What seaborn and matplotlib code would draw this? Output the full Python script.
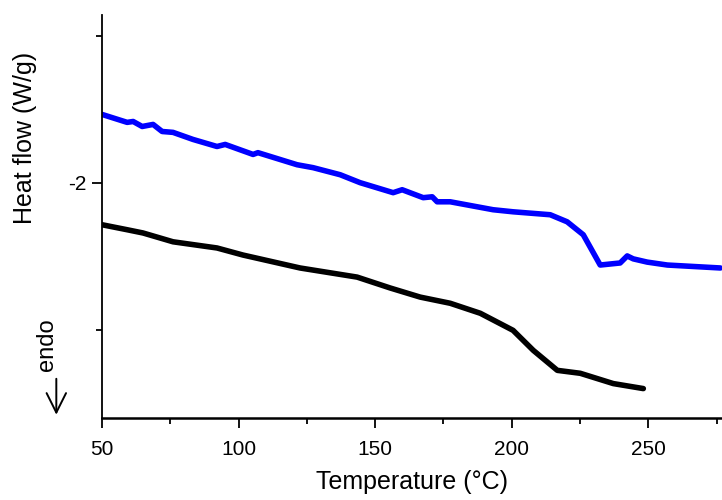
import matplotlib
matplotlib.use("Agg")
import matplotlib.pyplot as plt
import seaborn as sns
import pandas as pd
from matplotlib.ticker import MultipleLocator, FixedFormatter, FixedLocator

# blue curve (upper)
blue_temp = [50, 59.2, 61.4, 64.7, 68.7, 72.0, 76.0, 83.3, 92.1, 95.1, 105.3, 107.1,
             121.4, 127.3, 137.2, 144.5, 156.6, 159.9, 167.6, 170.9, 172.7, 177.5,
             193.2, 200.5, 214.1, 220.3, 226.2, 232.4, 239.7, 242.3, 244.5, 249.6,
             257.0, 276.4]
blue_flow = [-1.768, -1.795, -1.792, -1.809, -1.802, -1.826, -1.829, -1.853, -1.877,
             -1.870, -1.904, -1.898, -1.939, -1.949, -1.973, -2.000, -2.034, -2.024,
             -2.051, -2.048, -2.065, -2.065, -2.092, -2.099, -2.109, -2.133, -2.177,
             -2.280, -2.273, -2.249, -2.259, -2.270, -2.280, -2.290]

# black curve (lower)
black_temp = [50, 59.2, 65.0, 76.0, 92.1, 101.6, 122.5, 143.4, 155.5, 166.5, 177.5,
              188.5, 200.5, 207.9, 216.7, 225.1, 237.2, 248.2]
black_flow = [-2.143, -2.160, -2.171, -2.201, -2.222, -2.246, -2.290, -2.321, -2.358,
              -2.389, -2.410, -2.444, -2.502, -2.570, -2.638, -2.648, -2.683, -2.700]

sns.set_style("ticks")
plt.rcParams['font.family'] = ['Liberation Sans', 'DejaVu Sans']
plt.rcParams['text.color'] = 'black'
plt.rcParams['axes.labelcolor'] = 'black'
plt.rcParams['xtick.color'] = 'black'
plt.rcParams['ytick.color'] = 'black'
plt.rcParams['axes.edgecolor'] = 'black'

fig = plt.figure(figsize=(7.22, 5), dpi=100)
ax = fig.add_axes([0.1413, 0.164, 0.8587, 0.806])

blue_df = pd.DataFrame({"T": blue_temp, "HF": blue_flow})
black_df = pd.DataFrame({"T": black_temp, "HF": black_flow})
sns.lineplot(data=blue_df, x="T", y="HF", color="#0000ff", linewidth=4, ax=ax,
             sort=False, solid_capstyle="round", solid_joinstyle="round")
sns.lineplot(data=black_df, x="T", y="HF", color="black", linewidth=4, ax=ax,
             sort=False, solid_capstyle="round", solid_joinstyle="round")

ax.set_xlim(50, 277)
ax.set_ylim(-2.80, -1.43)

ax.xaxis.set_major_locator(MultipleLocator(50))
ax.xaxis.set_minor_locator(MultipleLocator(25))
ax.yaxis.set_major_locator(FixedLocator([-2]))
ax.yaxis.set_minor_locator(FixedLocator([-2.5, -1.5]))
ax.yaxis.set_major_formatter(FixedFormatter(["-2"]))

for s in ["top", "right"]:
    ax.spines[s].set_visible(False)
ax.spines["bottom"].set_linewidth(1.8)
ax.spines["left"].set_linewidth(1.3)

ax.tick_params(axis="both", which="major", labelsize=15, length=7, width=1.3, direction="out")
ax.tick_params(axis="both", which="minor", length=4, width=1.3, direction="out")
ax.tick_params(axis="x", pad=9)
ax.tick_params(axis="y", pad=4)

ax.set_xlabel("Temperature (°C)", fontsize=18)
ax.xaxis.set_label_coords(0.5, -0.128)
ax.set_ylabel("Heat flow (W/g)", fontsize=18)
ax.yaxis.set_label_coords(-0.125, 0.695)
ax.yaxis.label.set_va("center")

fig.text(0.065, 0.31, "endo", rotation=90, fontsize=17, ha="center", va="center")
fig.add_artist(matplotlib.patches.FancyArrowPatch(
    (0.078, 0.248), (0.078, 0.165), transform=fig.transFigure,
    arrowstyle="->,head_width=0.5,head_length=1.0", mutation_scale=14,
    linewidth=1.4, color="black"))

fig.savefig("out.png", dpi=100, facecolor="white")
